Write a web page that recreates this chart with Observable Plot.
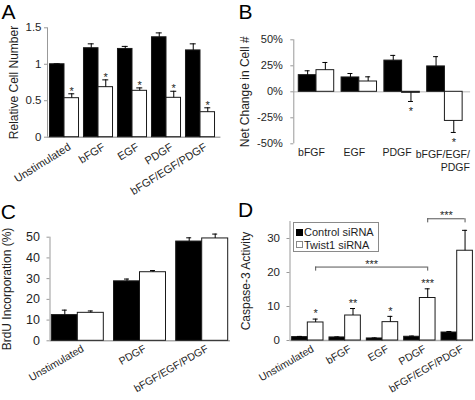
<!DOCTYPE html>
<html>
<head>
<meta charset="utf-8">
<script src="https://cdn.jsdelivr.net/npm/d3@7"></script>
<script src="https://cdn.jsdelivr.net/npm/@observablehq/plot@0.6"></script>
<style>
  body { margin: 0; background: #fff; }
  #fig { position: relative; width: 475px; height: 400px; overflow: hidden; background: #fff;
         font-family: "Liberation Sans", Arial, sans-serif; }
  .panel { position: absolute; }
  #fig svg text { fill: #1e1e1e; }
  #fig g[aria-label="y-axis label"] text { font-size: 12px; }
  .letter { position: absolute; font-size: 21px; line-height: 1; color: #000; }
  .legend { position: absolute; border: 1px solid #8a8a8a; background: #fff; box-sizing: border-box;
            padding: 3px 0 0 2px; font-size: 11px; color: #1e1e1e; }
  .legend .item { height: 12.5px; line-height: 12.5px; white-space: nowrap; display: flex; align-items: center; }
  .legend .sw { display: inline-block; width: 7px; height: 7px; margin-right: 1px; box-sizing: border-box; border: 1px solid #333; }
</style>
</head>
<body>
<div id="fig"></div>
<script>
// ---------- shared ----------
const SERIES = ["Control siRNA", "Twist1 siRNA"];
const SERIES_FILL = ["#000000", "#ffffff"];

// ---------- Panel A : Relative Cell Number ----------
const groupsA = ["Unstimulated", "bFGF", "EGF", "PDGF", "bFGF/EGF/PDGF"];
const controlA = [1.00, 1.22, 1.21, 1.37, 1.19];
const controlErrA = [0.005, 0.06, 0.035, 0.06, 0.09];
const twistA = [0.535, 0.686, 0.636, 0.54, 0.343];
const twistErrA = [0.06, 0.10, 0.04, 0.09, 0.06];
const sigA = ["*", "*", "*", "*", "*"];
const ticksA = [0, 0.5, 1, 1.5];

// ---------- Panel B : Net Change in Cell # ----------
const groupsB = ["bFGF", "EGF", "PDGF", "bFGF/EGF/\nPDGF"];
const controlB = [16, 13.8, 30, 24.4];
const controlErrB = [4.2, 3.8, 5, 9.4];
const twistB = [20.8, 9.9, -1, -28];
const twistErrB = [7.4, 4.5, 8.3, 11.1];
const sigB = ["", "", "*", "*"];
const ticksB = [-50, -25, 0, 25, 50];

// ---------- Panel C : BrdU Incorporation ----------
const groupsC = ["Unstimulated", "PDGF", "bFGF/EGF/PDGF"];
const controlC = [12.4, 28.7, 47.9];
const controlErrC = [2.4, 1.1, 1.8];
const twistC = [13.5, 33.1, 49.4];
const twistErrC = [0.9, 0.8, 2.1];
const sigC = ["", "", ""];
const ticksC = [0, 10, 20, 30, 40, 50];

// ---------- Panel D : Caspase-3 Activity ----------
const groupsD = ["Unstimulated", "bFGF", "EGF", "PDGF", "bFGF/EGF/PDGF"];
const controlD = [1.0, 0.9, 0.6, 1.1, 2.35];
const controlErrD = [0.2, 0.15, 0.15, 0.2, 0.3];
const twistD = [5.3, 7.35, 5.4, 12.5, 26.4];
const twistErrD = [1.0, 2.05, 1.7, 2.7, 6.0];
const sigD = ["*", "**", "*", "***", ""];
const ticksD = [0, 10, 20, 30];
const bracketFromD = [0, 3];
const bracketToD = [3, 4];
const bracketYD = [21.6, 35.8];
const bracketLabelD = ["***", "***"];

// ---------- drawing ----------
function panel(data, L) {
  const {groups, control, controlErr, twist, twistErr, sig} = data;
  const w = L.barWidth, cap = L.cap;
  const rows = [];
  groups.forEach((g, i) => {
    rows.push({i, s: SERIES[0], side: -1, v: control[i], e: controlErr[i], sig: ""});
    rows.push({i, s: SERIES[1], side: 1, v: twist[i], e: twistErr[i], sig: sig[i]});
  });
  const cx = d => d.i + d.side * w / 2;
  const tip = d => d.v + (d.v < 0 ? -d.e : d.e);
  const cats = groups.map((g, i) => ({i, g}));
  const marks = [
    Plot.ruleY([0], {stroke: L.zeroColor, strokeWidth: L.zeroWidth}),
    Plot.rectY(rows, {
      x1: d => d.i + (d.side < 0 ? -w : 0),
      x2: d => d.i + (d.side < 0 ? 0 : w),
      y1: 0, y2: "v", fill: "s", stroke: "#1a1a1a", strokeWidth: 1
    }),
    Plot.ruleX(rows, {x: cx, y1: "v", y2: tip, stroke: "#000"}),
    Plot.ruleY(rows, {y: tip, x1: d => cx(d) - cap, x2: d => cx(d) + cap, stroke: "#000"}),
    Plot.text(rows.filter(d => d.sig && d.v >= 0), {x: cx, y: tip, text: "sig", dy: -L.starGap + 2.7, fontSize: 11}),
    Plot.text(rows.filter(d => d.sig && d.v < 0), {x: cx, y: tip, text: "sig", dy: L.starGap + 2.7, fontSize: 11}),
    Plot.ruleX([L.xDomain[0]], {y1: L.yDomain[0], y2: L.yDomain[1], stroke: "#999"})
  ];
  // category labels along the x axis
  if (L.rotate) {
    marks.push(Plot.text(cats, {x: "i", y: L.yDomain[0], text: "g", rotate: L.rotate,
      textAnchor: "end", lineAnchor: "top", dx: L.labelDx, dy: L.labelDy, fontSize: L.labelSize}));
  } else {
    marks.push(
      Plot.text(cats.filter(c => !c.g.includes("\n")), {x: "i", y: L.yDomain[0], text: "g",
        textAnchor: "middle", lineAnchor: "top", dx: L.labelDx, dy: L.labelDy, fontSize: L.labelSize}),
      Plot.text(cats.filter(c => c.g.includes("\n")), {x: "i", y: L.yDomain[0], text: "g",
        textAnchor: "end", lineAnchor: "top", dx: L.wrapDx, dy: L.labelDy, fontSize: L.labelSize, lineHeight: 1.25})
    );
  }
  if (data.brackets) {
    const b = data.brackets;
    const br = b.from.map((f, k) => ({x1: f + w / 2, x2: b.to[k] + w / 2, y: b.y[k], label: b.label[k]}));
    marks.push(
      Plot.ruleY(br, {y: "y", x1: "x1", x2: "x2", stroke: "#555"}),
      Plot.ruleX(br, {x: "x1", y1: "y", y2: d => d.y - L.bracketDrop, stroke: "#555"}),
      Plot.ruleX(br, {x: "x2", y1: "y", y2: d => d.y - L.bracketDrop, stroke: "#555"}),
      Plot.text(br, {x: d => (d.x1 + d.x2) / 2, y: "y", text: "label", dy: -3, fontSize: 11})
    );
  }
  return Plot.plot({
    width: L.width, height: L.height,
    marginLeft: L.marginLeft, marginRight: L.marginRight,
    marginTop: L.marginTop, marginBottom: L.marginBottom,
    style: {fontFamily: '"Liberation Sans", Arial, sans-serif', fontSize: L.tickSize + "px", color: "#999",
            background: "transparent", overflow: "visible"},
    x: {domain: L.xDomain, axis: null},
    y: {domain: L.yDomain, ticks: data.ticks, tickFormat: L.yFormat, tickSize: 3, tickPadding: L.yPad,
        label: data.ylabel, labelAnchor: "center", labelArrow: "none", labelOffset: L.labelOffset},
    color: {domain: SERIES, range: SERIES_FILL},
    marks
  });
}

const fig = document.getElementById("fig");
function place(node, left, top) {
  const d = document.createElement("div");
  d.className = "panel";
  d.style.left = left + "px"; d.style.top = top + "px";
  d.appendChild(node);
  fig.appendChild(d);
}
function letter(t, left, top) {
  const d = document.createElement("div");
  d.className = "letter"; d.textContent = t;
  d.style.left = left + "px"; d.style.top = top + "px";
  fig.appendChild(d);
}

place(panel(
  {groups: groupsA, control: controlA, controlErr: controlErrA, twist: twistA, twistErr: twistErrA, sig: sigA,
   ticks: ticksA, ylabel: "Relative Cell Number"},
  {width: 237, height: 200, marginLeft: 47, marginRight: 16.6, marginTop: 27.3, marginBottom: 63.3,
   xDomain: [-0.5, 4.6], yDomain: [0, 1.5], barWidth: 0.427, cap: 0.088, starGap: 5,
   zeroColor: "#aaa", zeroWidth: 1.5, rotate: -32, labelDx: 3, labelDy: 5, labelSize: 11, tickSize: 11.5, yPad: 3,
   yFormat: d => String(d), labelOffset: 38}
), 0, 0);

place(panel(
  {groups: groupsB, control: controlB, controlErr: controlErrB, twist: twistB, twistErr: twistErrB, sig: sigB,
   ticks: ticksB, ylabel: "Net Change in Cell #"},
  {width: 238, height: 200, marginLeft: 56.3, marginRight: 4.9, marginTop: 39.3, marginBottom: 56.7,
   xDomain: [-0.53, 3.6], yDomain: [-50, 50], barWidth: 0.414, cap: 0.058, starGap: 7,
   zeroColor: "#d0d0d0", zeroWidth: 1.5, rotate: 0, labelDx: -5, wrapDx: 25, labelDy: 4.5, labelSize: 10.5,
   tickSize: 11, yPad: 8, yFormat: d => d + "%", labelOffset: 53}
), 237, 0);

place(panel(
  {groups: groupsC, control: controlC, controlErr: controlErrC, twist: twistC, twistErr: twistErrC, sig: sigC,
   ticks: ticksC, ylabel: "BrdU Incorporation (%)"},
  {width: 237, height: 200, marginLeft: 49.5, marginRight: 7, marginTop: 36.7, marginBottom: 59.7,
   xDomain: [-0.447, 2.455], yDomain: [0, 50], barWidth: 0.418, cap: 0.04, starGap: 6,
   zeroColor: "#aaa", zeroWidth: 1.5, rotate: -30, labelDx: 3, labelDy: 3.5, labelSize: 10.5, tickSize: 12.5, yPad: 7,
   yFormat: d => String(d), labelOffset: 48}
), 0, 200);

place(panel(
  {groups: groupsD, control: controlD, controlErr: controlErrD, twist: twistD, twistErr: twistErrD, sig: sigD,
   ticks: ticksD, ylabel: "Caspase-3 Activity",
   brackets: {from: bracketFromD, to: bracketToD, y: bracketYD, label: bracketLabelD}},
  {width: 238, height: 200, marginLeft: 52.5, marginRight: 1.7, marginTop: 21, marginBottom: 60,
   xDomain: [-0.477, 4.444], yDomain: [0, 35], barWidth: 0.42, cap: 0.067, starGap: 8, bracketDrop: 1.2,
   zeroColor: "#aaa", zeroWidth: 1.5, rotate: -30, labelDx: 3, labelDy: 4, labelSize: 10.5, tickSize: 11.5, yPad: 7,
   yFormat: d => String(d), labelOffset: 48.5}
), 237, 200);

// legend for panel D
const lg = document.createElement("div");
lg.className = "legend";
Object.assign(lg.style, {left: "293px", top: "222px", width: "86px", height: "30px"});
SERIES.forEach((s, k) => {
  const it = document.createElement("div");
  it.className = "item";
  const sw = document.createElement("span");
  sw.className = "sw";
  sw.style.background = SERIES_FILL[k];
  sw.style.borderColor = k === 0 ? "#000" : "#888";
  it.appendChild(sw);
  it.appendChild(document.createTextNode(s));
  lg.appendChild(it);
});
fig.appendChild(lg);

letter("A", 1.5, 1.2);
letter("B", 238.5, 1.2);
letter("C", 0.7, 200.5);
letter("D", 238, 199);
</script>
</body>
</html>
